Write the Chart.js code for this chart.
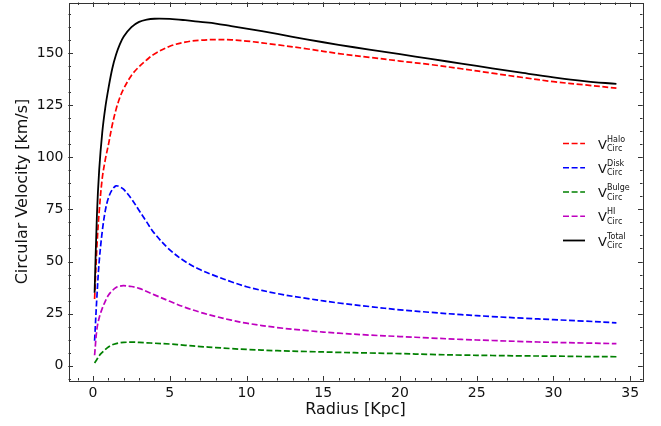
<!DOCTYPE html>
<html>
<head>
<meta charset="utf-8">
<script src="https://cdn.jsdelivr.net/npm/chart.js@4.4.1/dist/chart.umd.min.js"></script>
<style>
  body { margin: 0; background: #fff; }
  canvas { display: block; }
</style>
</head>
<body>
<canvas id="chart" width="661" height="426"></canvas>
<script>
// radius in Kpc, velocities in km/s
var radius = [0.1, 0.25, 0.4, 0.6, 0.8, 1, 1.25, 1.5, 1.75, 2, 2.5, 3, 3.5, 4, 5, 6, 7, 8, 9, 10,
              12, 14, 16, 18, 20, 22, 24, 26, 28, 30, 32, 34.1];
var vHalo = [32, 57, 74, 90, 99, 106, 115.5, 123, 128.8, 133, 139.3, 143.5, 146.8, 149.6, 153.3, 155.3, 156.2, 156.5, 156.4, 155.8,
             154, 152, 149.8, 148, 146.2, 144.5, 142.5, 140.4, 138.3, 136.3, 134.8, 133.2];
var vDisk = [12, 33, 50, 64.5, 74.5, 80.5, 84.5, 86.3, 85.8, 84.6, 80.1, 74.5, 68.9, 63.5, 55.6, 50, 46, 43, 40.3, 37.9,
             34.6, 32.2, 30.1, 28.4, 26.8, 25.6, 24.5, 23.6, 22.8, 22.1, 21.4, 20.6];
var vBulge = [1.3, 3, 4.8, 6.4, 7.8, 9, 10, 10.6, 11, 11.2, 11.3, 11.2, 11, 10.8, 10.4, 9.8, 9.2, 8.7, 8.2, 7.8,
              7.2, 6.8, 6.4, 6.1, 5.8, 5.4, 5.1, 4.9, 4.7, 4.6, 4.4, 4.3];
var vHI = [5, 17.5, 23, 27.5, 31, 33.8, 36, 37.5, 38.2, 38.4, 38, 37.1, 35.6, 34, 30.9, 28, 25.6, 23.6, 21.9, 20.4,
           18.3, 16.8, 15.6, 14.7, 14, 13.3, 12.6, 12.1, 11.6, 11.2, 10.9, 10.6];
var vTotal = [35, 72, 94, 112, 124, 133, 142.5, 149.3, 154.3, 158, 162.5, 165, 166.1, 166.5, 166.4, 165.8, 165, 164.2, 163, 161.8,
              159.2, 156.5, 154, 151.7, 149.5, 147.2, 145, 142.7, 140.5, 138.4, 136.6, 135.2];

var seriesNames = ['Halo', 'Disk', 'Bulge', 'HI', 'Total'];
var seriesColors = ['#ff0000', '#0000ff', '#008000', '#bf00bf', '#000000'];
var subscript = 'Circ';

var xRange = [-1.6, 35.8];
var yRange = [-7.1, 174.3];
var xMajor = 5, xMinor = 1;
var yMajor = 25, yMinor = 6.25;

function pts(ys) {
    return radius.map(function (r, i) { return { x: r, y: ys[i] }; });
}

var allSeries = [vHalo, vDisk, vBulge, vHI, vTotal];
var datasets = allSeries.map(function (ys, i) {
    var isTotal = seriesNames[i] === 'Total';
    return {
        label: seriesNames[i],
        data: pts(ys),
        borderColor: seriesColors[i],
        borderWidth: isTotal ? 1.8 : 1.7,
        borderDash: isTotal ? [] : [6, 2.6],
        pointRadius: 0,
        fill: false,
        tension: 0.35,
        order: allSeries.length - i
    };
});

// matplotlib style frame with inward ticks on every side
var framePlugin = {
    id: 'frame',
    afterDraw: function (chart) {
        var ctx = chart.ctx, a = chart.chartArea;
        var xs = chart.scales.x, ys = chart.scales.y;
        ctx.save();
        ctx.strokeStyle = '#333';
        ctx.lineWidth = 1;
        ctx.strokeRect(Math.round(a.left) + 0.5, Math.round(a.top) + 0.5,
                       Math.round(a.right - a.left), Math.round(a.bottom - a.top));
        function tickX(v, len) {
            var p = Math.round(xs.getPixelForValue(v)) + 0.5;
            ctx.beginPath();
            ctx.moveTo(p, a.bottom); ctx.lineTo(p, a.bottom - len);
            ctx.moveTo(p, a.top); ctx.lineTo(p, a.top + len);
            ctx.stroke();
        }
        function tickY(v, len) {
            var p = Math.round(ys.getPixelForValue(v)) + 0.5;
            ctx.beginPath();
            ctx.moveTo(a.left, p); ctx.lineTo(a.left + len, p);
            ctx.moveTo(a.right, p); ctx.lineTo(a.right - len, p);
            ctx.stroke();
        }
        var v;
        for (v = Math.ceil(xs.min / xMinor) * xMinor; v <= xs.max; v += xMinor) tickX(v, 2.5);
        for (v = Math.ceil(ys.min / yMinor) * yMinor; v <= ys.max; v += yMinor) tickY(v, 2.5);
        xs.ticks.forEach(function (t) { tickX(t.value, 4.5); });
        ys.ticks.forEach(function (t) { tickY(t.value, 4.5); });
        ctx.restore();
    }
};

// legend with V^{name}_{Circ}
var legendPlugin = {
    id: 'mathLegend',
    afterDraw: function (chart) {
        var ctx = chart.ctx;
        var x0 = 563, y0 = 143.5, step = 24.25;
        ctx.save();
        chart.data.datasets.forEach(function (ds, i) {
            var y = y0 + i * step;
            ctx.strokeStyle = ds.borderColor;
            ctx.lineWidth = ds.borderWidth;
            ctx.setLineDash(ds.borderDash);
            ctx.beginPath();
            ctx.moveTo(x0, y); ctx.lineTo(x0 + 22, y);
            ctx.stroke();
            ctx.setLineDash([]);
            ctx.fillStyle = '#111';
            ctx.textBaseline = 'alphabetic';
            ctx.textAlign = 'left';
            ctx.font = '13px "DejaVu Sans"';
            ctx.fillText('V', x0 + 35, y + 5);
            ctx.font = '8px "DejaVu Sans"';
            ctx.fillText(ds.label, x0 + 44, y - 2);
            ctx.fillText(subscript, x0 + 44, y + 7.5);
        });
        ctx.restore();
    }
};

var tickFont = { family: 'DejaVu Sans', size: 14 };
var titleFont = { family: 'DejaVu Sans', size: 16 };

new Chart(document.getElementById('chart').getContext('2d'), {
    type: 'line',
    data: { datasets: datasets },
    options: {
        responsive: false,
        animation: false,
        layout: { padding: { top: 2.5, right: 18.5, bottom: 0, left: 0 } },
        plugins: { legend: { display: false }, tooltip: { enabled: false } },
        scales: {
            x: {
                type: 'linear',
                min: xRange[0],
                max: xRange[1],
                afterFit: function (s) { s.height = 45.5; s.paddingLeft = 0; s.paddingRight = 0; },
                grid: { display: false, drawTicks: false },
                border: { display: false },
                ticks: { stepSize: xMajor, includeBounds: false, autoSkip: false, maxRotation: 0,
                         padding: 4, color: '#111', font: tickFont },
                title: { display: true, text: 'Radius [Kpc]', color: '#111', font: titleFont,
                         padding: { top: 0, bottom: 6.4 } }
            },
            y: {
                type: 'linear',
                min: yRange[0],
                max: yRange[1],
                afterFit: function (s) { s.width = 68.5; s.paddingTop = 0; s.paddingBottom = 0; },
                grid: { display: false, drawTicks: false },
                border: { display: false },
                ticks: { stepSize: yMajor, includeBounds: false, autoSkip: false,
                         padding: 5, color: '#111', font: tickFont },
                title: { display: true, text: 'Circular Velocity [km/s]', color: '#111', font: titleFont,
                         padding: { top: 13, bottom: 0 } }
            }
        }
    },
    plugins: [framePlugin, legendPlugin]
});
</script>
</body>
</html>
